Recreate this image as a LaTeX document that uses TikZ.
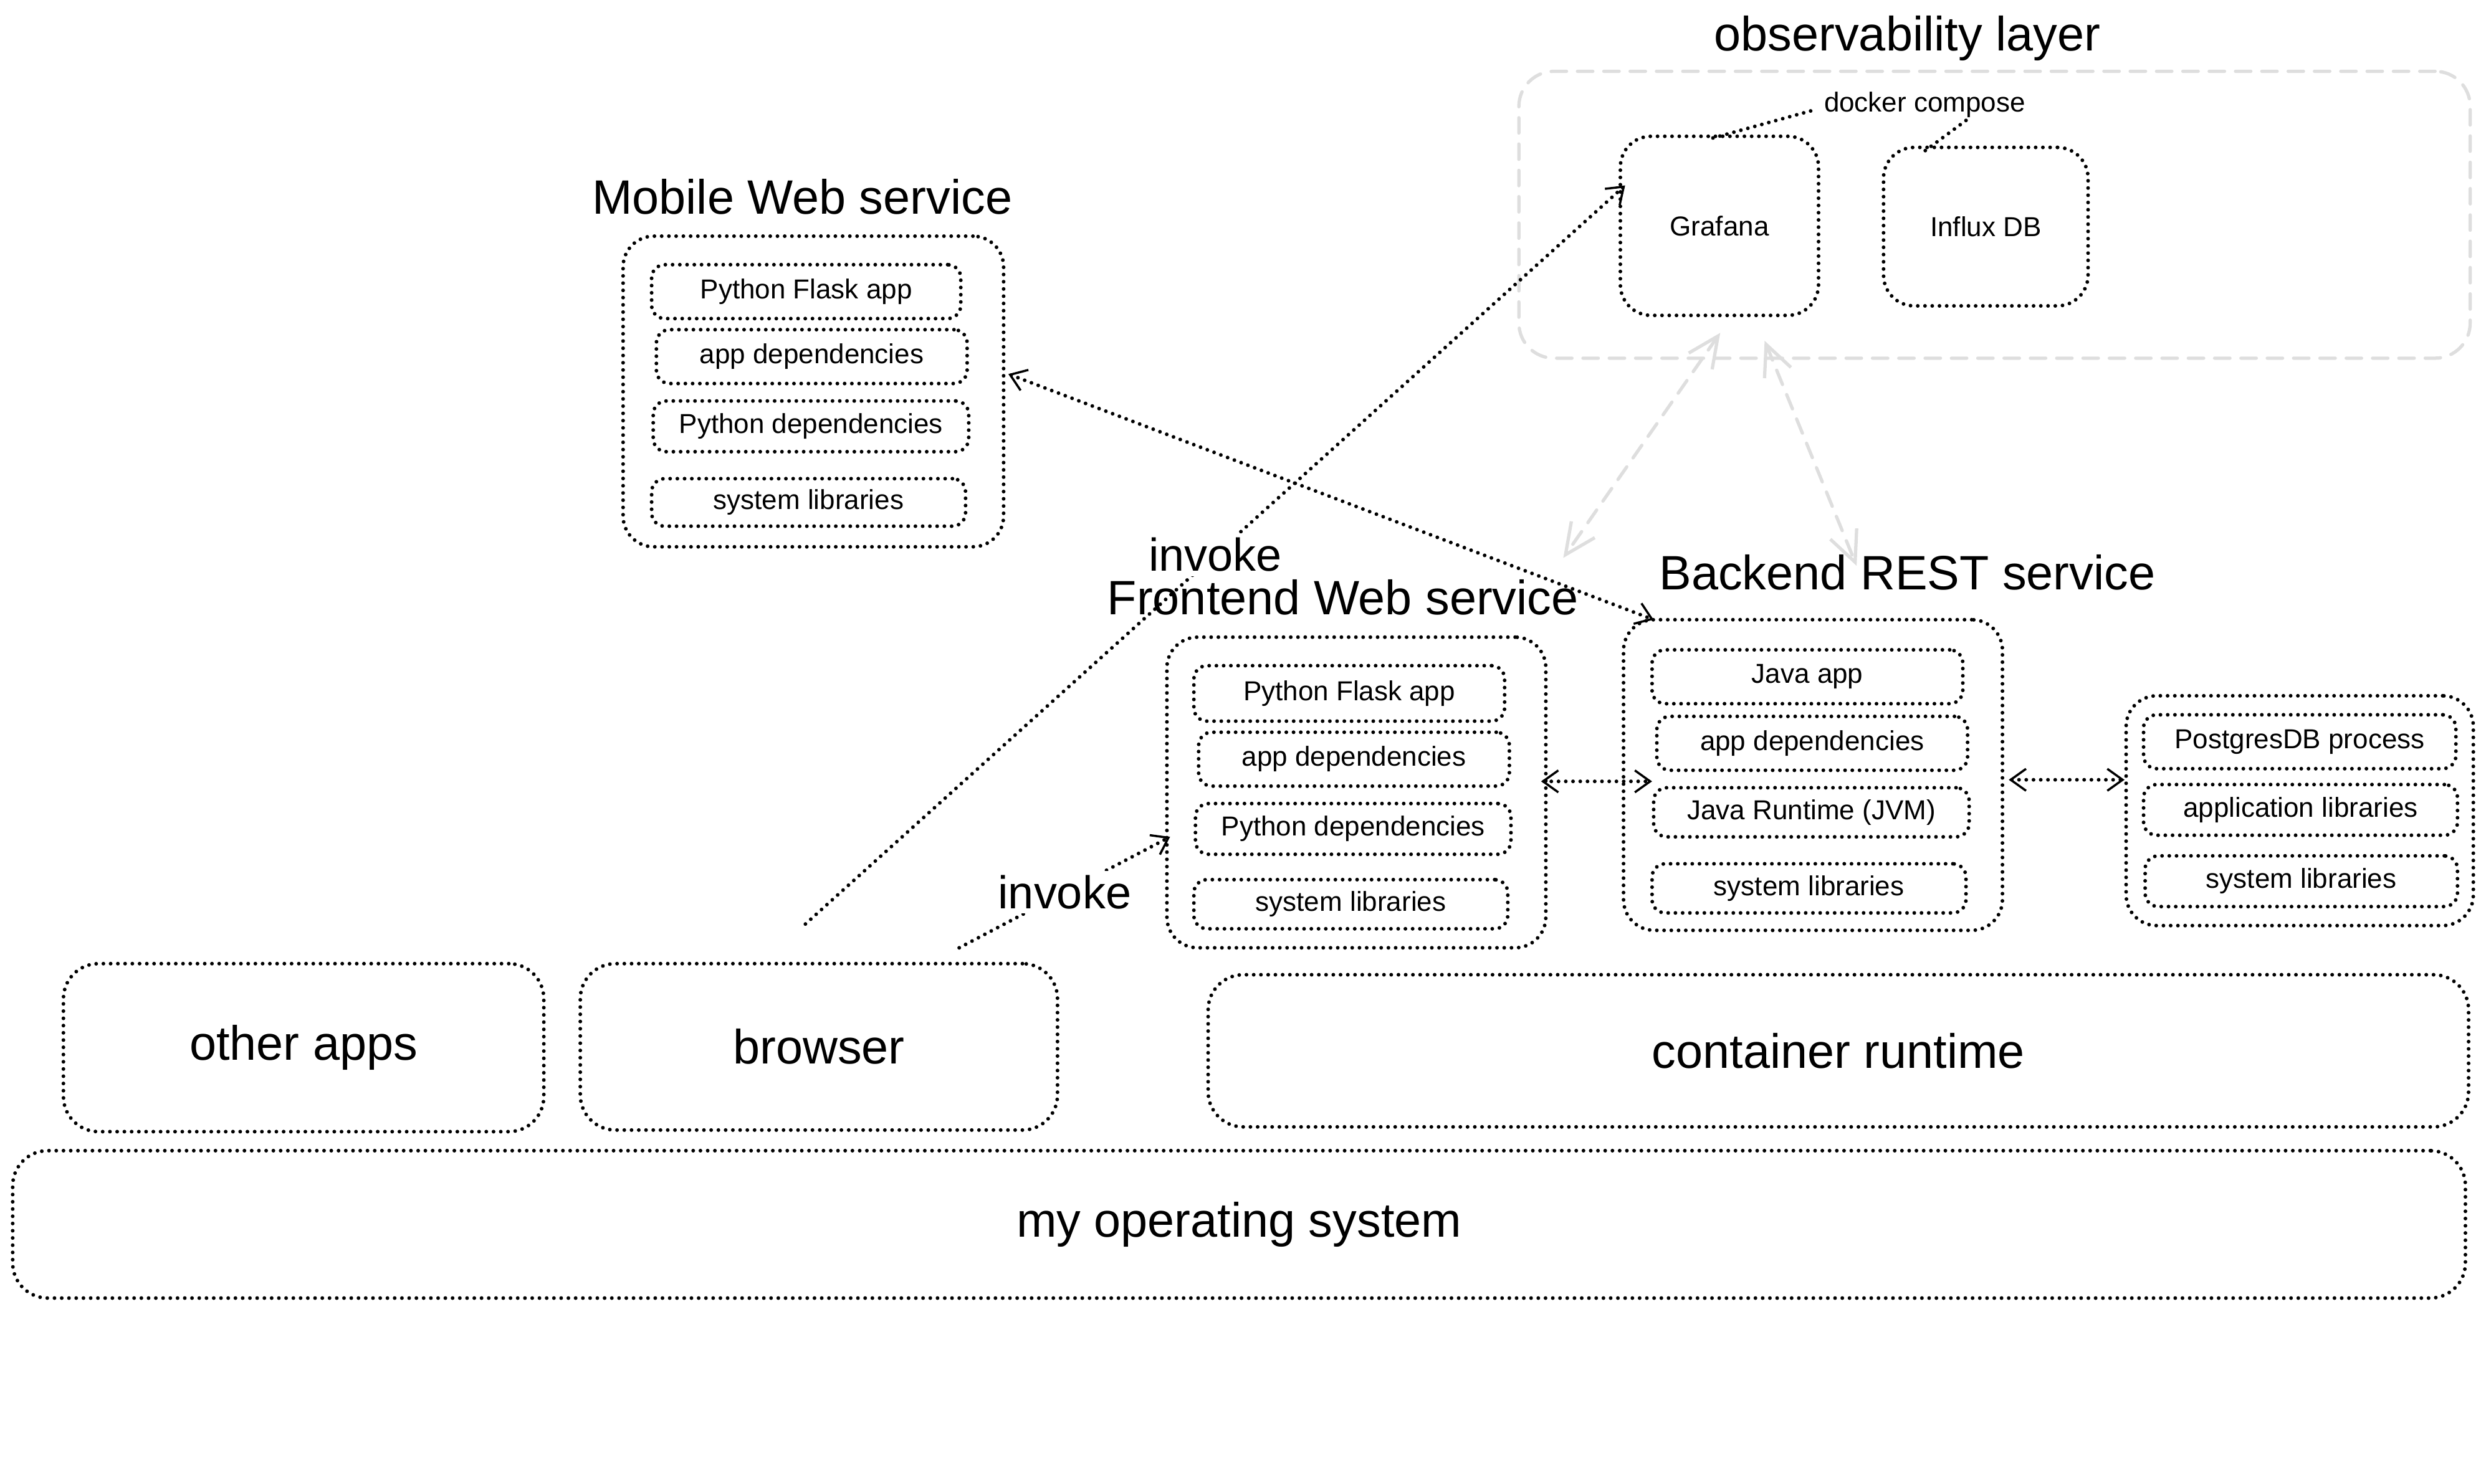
\documentclass[tikz,border=0pt]{standalone}
\usepackage{fontspec}
\setmainfont{Liberation Sans}
\usetikzlibrary{arrows.meta}
\begin{document}
\begin{tikzpicture}[x=0.0254cm,y=-0.0254cm,
 dotline/.style={line width=1.7pt,dash pattern=on 0pt off 3.3pt,line cap=round},
 graydash/.style={draw=black!13,line width=1.5pt,dash pattern=on 7pt off 5pt,line cap=round},
 myb/.tip={Straight Barb[length=7pt,width=10pt,line width=1pt]},
 grb/.tip={Straight Barb[length=14pt,width=13pt,line width=1.5pt]},
 bw/.style={minimum width=#1*0.0254cm},
 bh/.style={minimum height=#1*0.0254cm},
 bigbox/.style={draw,dotline,rounded corners=14pt,inner sep=0pt,outer sep=0pt},
 smallbox/.style={draw,dotline,rounded corners=6pt,inner sep=0pt,outer sep=0pt,font=\fontsize{12.5}{15}\selectfont},
 basebox/.style={draw,dotline,rounded corners=16pt,inner sep=0pt,outer sep=0pt,font=\fontsize{22}{26}\selectfont},
 obsbox/.style={graydash,rounded corners=16pt,inner sep=0pt,outer sep=0pt},
 title/.style={inner sep=1pt,font=\fontsize{22}{26}\selectfont},
 invlbl/.style={fill=white,inner sep=2pt,font=\fontsize{21}{25}\selectfont},
 small/.style={inner sep=1pt,font=\fontsize{12.5}{15}\selectfont}]
\useasboundingbox (0,0) rectangle (1568,936);

% observability layer
\node[obsbox,bw=600,bh=181] (obs) at (1258,135.5) {};
\node[title] (obstitle) at (1203,24) {observability layer};
\node[bigbox,bw=125,bh=113,font=\fontsize{12.5}{15}\selectfont] (graf) at (1084.5,142.5) {Grafana};
\node[bigbox,bw=129,bh=100,font=\fontsize{12.5}{15}\selectfont] (influx) at (1252.5,143) {Influx DB};
\node[small] (docker) at (1214,66) {docker compose};

% Mobile web service
\node[title] (mobtitle) at (506,124) {Mobile Web service};
\node[bigbox,bw=240,bh=196] (mob) at (513,247) {};
\node[smallbox,bw=195,bh=34] (m1) at (508.5,184) {Python Flask app};
\node[smallbox,bw=196,bh=34] (m2) at (512,225) {app dependencies};
\node[smallbox,bw=199,bh=32] (m3) at (511.5,269) {Python dependencies};
\node[smallbox,bw=198,bh=30] (m4) at (510,317) {system libraries};

% Frontend web service
\node[title] (fetitle) at (847,377) {Frontend Web service};
\node[bigbox,bw=239,bh=196] (fe) at (855.5,500) {};
\node[smallbox,bw=196,bh=35] (f1) at (851,437.5) {Python Flask app};
\node[smallbox,bw=196,bh=34] (f2) at (854,479) {app dependencies};
\node[smallbox,bw=199,bh=32] (f3) at (853.5,523) {Python dependencies};
\node[smallbox,bw=198,bh=31] (f4) at (852,570.5) {system libraries};

% Backend REST service
\node[title] (betitle) at (1203,361) {Backend REST service};
\node[bigbox,bw=239,bh=196] (be) at (1143.5,489) {};
\node[smallbox,bw=196,bh=34] (b1) at (1140,427) {Java app};
\node[smallbox,bw=196,bh=34] (b2) at (1143,469) {app dependencies};
\node[smallbox,bw=199,bh=31] (b3) at (1142.5,512.5) {Java Runtime (JVM)};
\node[smallbox,bw=198,bh=31] (b4) at (1141,560.5) {system libraries};

% Postgres
\node[bigbox,bw=219,bh=145] (pg) at (1450.5,511.5) {};
\node[smallbox,bw=197,bh=34] (p1) at (1450.5,468) {PostgresDB process};
\node[smallbox,bw=198,bh=32] (p2) at (1451,511) {application libraries};
\node[smallbox,bw=197,bh=32] (p3) at (1451.5,556) {system libraries};

% base layers
\node[basebox,bw=303,bh=106] (other) at (191.5,661) {other apps};
\node[basebox,bw=301,bh=105] (browser) at (516.5,660.5) {browser};
\node[basebox,bw=795,bh=96] (container) at (1159.5,663) {container runtime};
\node[basebox,bw=1547,bh=93] (os) at (781.5,772.5) {my operating system};

% connector end points
\coordinate (bsrc) at (508,583);
\coordinate (grafin) at (1025,117);
\coordinate (bsrc2) at (605,598);
\coordinate (fein) at (738,528);
\coordinate (mobout) at (636,236);
\coordinate (bein) at (1043,391);
\coordinate (feout) at (972,493);
\coordinate (bein2) at (1042,493);
\coordinate (beout) at (1267,492);
\coordinate (pgin) at (1340,492);
\coordinate (grafb1) at (1085,210);
\coordinate (feobs) at (986,352);
\coordinate (grafb2) at (1113,215);
\coordinate (beobs) at (1171,357);
\coordinate (dk1) at (1142,70);
\coordinate (graftop) at (1077,88);
\coordinate (dk2) at (1240,76);
\coordinate (influxtop) at (1213,96);

% connectors
\draw[dotline,-myb] (bsrc) -- node[invlbl] (inv1) {invoke} (grafin);
\draw[dotline,-myb] (bsrc2) -- node[invlbl] (inv2) {invoke} (fein);
\draw[dotline,myb-myb] (mobout) -- (bein);
\draw[dotline,myb-myb] (feout) -- (bein2);
\draw[dotline,myb-myb] (beout) -- (pgin);
\draw[graydash,grb-grb] (grafb1) -- (feobs);
\draw[graydash,grb-grb] (grafb2) -- (beobs);
\draw[dotline] (dk1) -- (graftop);
\draw[dotline] (dk2) -- (influxtop);
\end{tikzpicture}
\end{document}
